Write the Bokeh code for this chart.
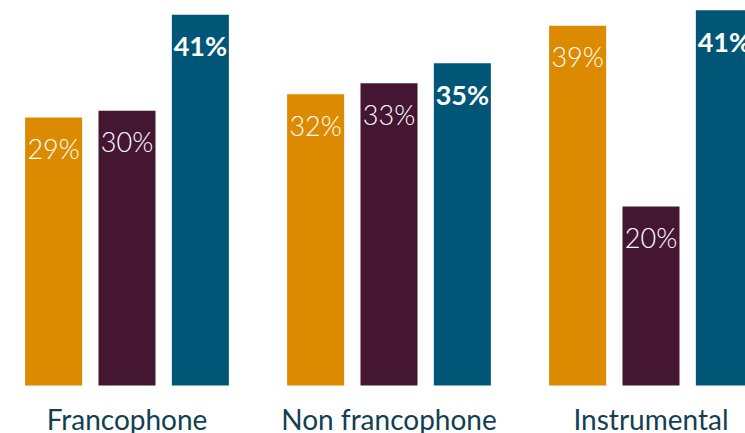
from bokeh.plotting import figure
from bokeh.models import ColumnDataSource, Range1d
from bokeh.core.properties import value
from bokeh.embed import file_html
from bokeh.resources import INLINE

# ---- data ----
categories = ["Francophone", "Non francophone", "Instrumental"]
values_orange = [29.35, 31.9, 39.4]
values_purple = [30.1, 33.1, 19.6]
values_blue = [40.6, 35.3, 41.1]
labels_orange = ["29%", "32%", "39%"]
labels_purple = ["30%", "33%", "20%"]
labels_blue = ["41%", "35%", "41%"]

series_values = [values_orange, values_purple, values_blue]
series_labels = [labels_orange, labels_purple, labels_blue]
series_colors = ["#DC8B00", "#451632", "#005676"]
series_bold = [False, False, True]

# ---- layout ----
BAR_W = 0.2176
OFFSET = 0.28
FONT = "Lato Light, Lato"

p = figure(width=745, height=433, output_backend="svg", toolbar_location=None,
           x_range=Range1d(-0.4828, 2.3607), y_range=Range1d(-5.26, 42.17),
           min_border=0, min_border_left=0, min_border_right=0,
           min_border_top=0, min_border_bottom=0)
p.axis.visible = False
p.grid.visible = False
p.outline_line_color = None
p.background_fill_color = "white"

for j, (vals, labs, col, bold) in enumerate(zip(series_values, series_labels, series_colors, series_bold)):
    xs = [i + (j - 1) * OFFSET for i in range(len(categories))]
    src = ColumnDataSource(dict(x=xs, top=vals, label=labs))
    p.vbar(x="x", top="top", bottom=0, width=BAR_W, source=src,
           fill_color=col, line_color=None)
    p.text(x="x", y="top", text="label", source=src,
           text_color="white", text_font=value("Lato" if bold else FONT),
           text_font_size="27px",
           text_font_style="bold" if bold else "normal",
           text_align="center", text_baseline="middle", y_offset=31)

csrc = ColumnDataSource(dict(x=list(range(len(categories))), y=[-3.65] * len(categories), label=categories))
p.text(x="x", y="y", text="label", source=csrc, text_color="#123F52",
       text_font=value("Lato"), text_font_size="28px",
       text_align="center", text_baseline="middle")

open("out.html", "w").write(file_html(p, INLINE))
